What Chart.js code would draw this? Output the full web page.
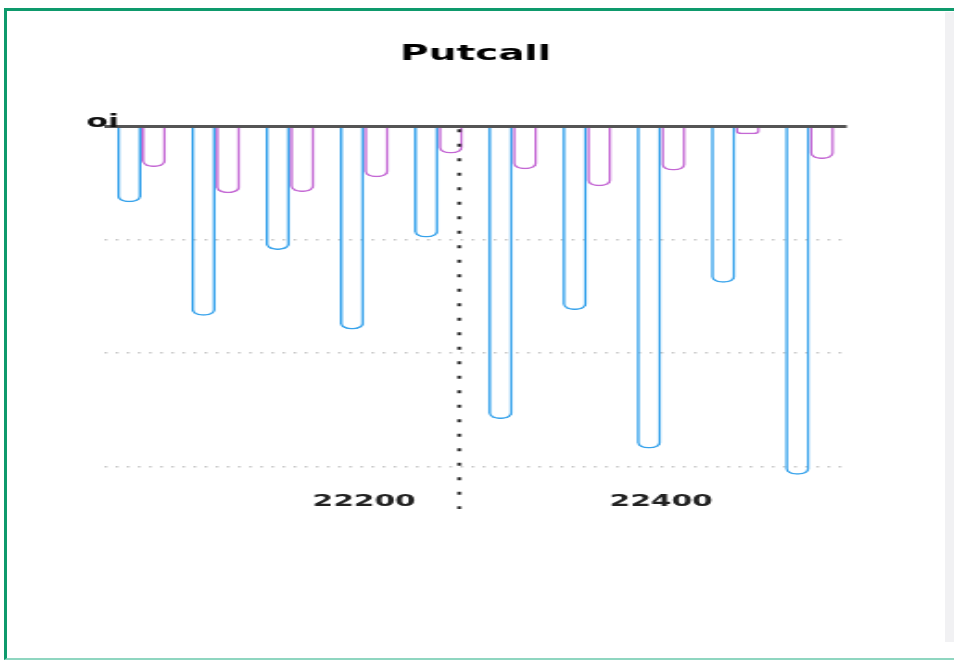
<!DOCTYPE html>
<html>
<head>
<meta charset="utf-8">
<script src="https://cdn.jsdelivr.net/npm/chart.js@4.4.1/dist/chart.umd.min.js"></script>
<style>
  body { margin: 0; background: #fff; }
  #frame {
    position: absolute; left: 4px; top: 8px; width: 950px; height: 652px;
    border-left: 3px solid #0e9a6c; border-top: 3px solid #0e9a6c;
    border-bottom: 2px solid #8fd6c0; box-sizing: border-box;
  }
  #strip { position: absolute; left: 945px; top: 12px; width: 9px; height: 630px; background: #f1f1f3; }
  #wrap {
    position: absolute; left: 8px; top: 12px; width: 506.5px; height: 643px;
    transform: scaleX(1.85); transform-origin: 0 0;
  }
</style>
</head>
<body>
<div id="frame"></div>
<div id="strip"></div>
<div id="wrap"><canvas id="putcallChart"></canvas></div>
<script>
// strikes and open interest
const strikes = [22050, 22100, 22150, 22200, 22250, 22300, 22350, 22400, 22450, 22500];
const putOI = [67, 167, 109, 179, 98, 258, 162, 284, 138, 307];
const callOI = [36, 59, 58, 45, 24, 38, 53, 39, 7, 29];
const spotPrice = 22264;

// dotted spot line + "oi" label
const extras = {
    id: 'extras',
    afterDatasetsDraw(chart) {
        const c = chart.ctx;
        const xs = chart.scales.x;
        const area = chart.chartArea;
        const i = strikes.findIndex(s => s > spotPrice);
        const x0 = xs.getPixelForValue(i - 1), x1 = xs.getPixelForValue(i);
        const x = x0 + (x1 - x0) * (spotPrice - strikes[i - 1]) / (strikes[i] - strikes[i - 1]);
        c.save();
        c.strokeStyle = '#222';
        c.lineWidth = 2;
        c.setLineDash([3, 11.5]);
        c.beginPath();
        c.moveTo(x, area.top + 3);
        c.lineTo(x, xs.bottom - 2);
        c.stroke();
        c.restore();

        c.save();
        c.fillStyle = '#111';
        c.font = 'bold 17px "DejaVu Sans"';
        c.textAlign = 'center';
        c.textBaseline = 'alphabetic';
        c.fillText('oi', area.left - 1, area.top + 1);
        c.restore();
    }
};

const isGrid = (c) => c.tick && c.tick.value % 100 === 0;

const ctx = document.getElementById('putcallChart').getContext('2d');
const myChart = new Chart(ctx, {
    type: 'bar',
    data: {
        labels: strikes,
        datasets: [{
            label: 'Put OI',
            data: putOI,
            backgroundColor: 'rgba(255,255,255,0)',
            borderColor: 'rgb(54, 162, 235)',
            borderWidth: 1.5,
            borderRadius: 6
        }, {
            label: 'Call OI',
            data: callOI,
            backgroundColor: 'rgba(255,255,255,0)',
            borderColor: 'rgb(196, 104, 212)',
            borderWidth: 1.5,
            borderRadius: 6
        }]
    },
    options: {
        responsive: true,
        maintainAspectRatio: false,
        animation: false,
        categoryPercentage: 0.66,
        barPercentage: 1,
        layout: {
            padding: { left: 52, right: 54, top: 0, bottom: 144 }
        },
        plugins: {
            legend: { display: false },
            tooltip: { enabled: false },
            title: {
                display: true,
                text: 'Putcall',
                color: '#000',
                font: { family: 'DejaVu Sans', size: 21, weight: 'bold' },
                padding: { top: 30, bottom: 59 }
            }
        },
        scales: {
            x: {
                grid: { display: false },
                border: { display: false },
                ticks: {
                    autoSkip: false,
                    maxRotation: 0,
                    padding: 0,
                    color: '#222',
                    font: { family: 'DejaVu Sans', size: 16, weight: 'bold' },
                    callback: function(value, index) {
                        return strikes[index] % 200 === 0 ? String(strikes[index]) : '';
                    }
                }
            },
            y: {
                reverse: true,
                min: 0,
                max: 315,
                ticks: { display: false, stepSize: 100 },
                border: {
                    display: false,
                    dash: (c) => c.tick && c.tick.value === 0 ? [] : [1.5, 4.5]
                },
                grid: {
                    drawTicks: false,
                    color: (c) => !isGrid(c) ? 'rgba(0,0,0,0)' : (c.tick.value === 0 ? '#555' : '#c8c8c8'),
                    lineWidth: (c) => c.tick && c.tick.value === 0 ? 3 : 1.5
                }
            }
        }
    },
    plugins: [extras]
});
</script>
</body>
</html>
